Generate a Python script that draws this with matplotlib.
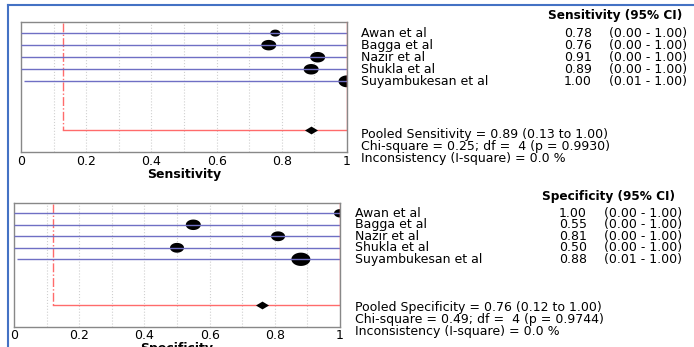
import numpy as np
import matplotlib
matplotlib.use("Agg")
import matplotlib.pyplot as plt
from matplotlib.path import Path
from matplotlib.lines import Line2D

plt.rcParams['font.family'] = ['DejaVu Sans']

# study data
studies = ["Awan et al", "Bagga et al", "Nazir et al", "Shukla et al", "Suyambukesan et al"]

sens = [0.78, 0.76, 0.91, 0.89, 1.00]
sens_lo = [0.00, 0.00, 0.00, 0.00, 0.01]
sens_hi = [1.00, 1.00, 1.00, 1.00, 1.00]
sens_weight = [10, 15, 15, 15, 17]
sens_pooled = (0.89, 0.13, 1.00)
sens_chi = (0.25, 4, 0.9930)
sens_i2 = 0.0

spec = [1.00, 0.55, 0.81, 0.50, 0.88]
spec_lo = [0.00, 0.00, 0.00, 0.00, 0.01]
spec_hi = [1.00, 1.00, 1.00, 1.00, 1.00]
spec_weight = [12, 15, 14, 14, 19]
spec_pooled = (0.76, 0.12, 1.00)
spec_chi = (0.49, 4, 0.9744)
spec_i2 = 0.0

BLUE = '#6f6fc4'
RED = '#ff6b6b'
FS = 9

# ellipse and flat diamond markers
t = np.linspace(0, 2 * np.pi, 60)
ellipse = Path(np.column_stack([np.cos(t), 0.7 * np.sin(t)]))
diamond = Path([(-1, 0), (0, 0.6), (1, 0), (0, -0.6), (-1, 0)],
               [Path.MOVETO, Path.LINETO, Path.LINETO, Path.LINETO, Path.CLOSEPOLY])

W, H = 694, 347
fig = plt.figure(figsize=(W / 100, H / 100), dpi=100)


def forest(rect, est, lo, hi, weight, pooled, chi, i2, name, text_x, pool_y, pool_dy):
    ax = fig.add_axes(rect)
    y = np.arange(1, len(est) + 1)
    ax.hlines(y, lo, hi, color=BLUE, lw=1.0, zorder=3)
    ax.scatter(est, y, s=(np.array(weight) * 0.72) ** 2, marker=ellipse,
               color='black', zorder=2, linewidths=0)

    p, plo, phi = pooled
    py = 9
    ax.plot([plo, plo], [0.2, py], color=RED, lw=1.0, ls='-.', zorder=1)
    ax.plot([phi, phi], [0.08, py], color=RED, lw=1.0, zorder=4)
    ax.plot([plo, phi], [py, py], color=RED, lw=1.0, zorder=1)
    ax.scatter([p], [py], s=88, marker=diamond, color='black', zorder=5, linewidths=0)

    ax.set_xlim(0, 1)
    ax.set_ylim(10.86, 0.08)
    ax.set_yticks([])
    ax.set_xticks(np.arange(0, 1.01, 0.2))
    ax.set_xticklabels(['0', '0.2', '0.4', '0.6', '0.8', '1'])
    ax.tick_params(length=0, which='both', labelsize=FS, pad=2)
    for g in np.arange(0.1, 1.0, 0.1):
        ax.axvline(g, color='#d0d0d0', lw=0.8, ls=':', zorder=0)
    for sp in ax.spines.values():
        sp.set_color('#888888')
        sp.set_linewidth(1.0)
    ax.set_xlabel(name, fontsize=FS, fontweight='bold', labelpad=0)

    # table of estimates
    tr = ax.get_yaxis_transform()
    nx, vx, cx, hx = text_x
    ax.text(hx, -0.5, f"{name} (95% CI)", transform=tr, ha='right', va='center',
            fontsize=FS - 0.3, fontweight='bold', clip_on=False)
    for yi, s_, e, l, h in zip(y, studies, est, lo, hi):
        ax.text(nx, yi, s_, transform=tr, ha='left', va='center', fontsize=FS)
        ax.text(vx, yi, f"{e:.2f}", transform=tr, ha='right', va='center', fontsize=FS)
        ax.text(cx, yi, f"({l:.2f} - {h:.2f})", transform=tr, ha='left', va='center',
                fontsize=FS)
    lines = [f"Pooled {name} = {p:.2f} ({plo:.2f} to {phi:.2f})",
             f"Chi-square = {chi[0]:.2f}; df =  {chi[1]} (p = {chi[2]:.4f})",
             f"Inconsistency (I-square) = {i2:.1f} %"]
    for k, line in enumerate(lines):
        ax.text(nx, pool_y + k * pool_dy, line, transform=tr, ha='left',
                va='center', fontsize=FS)
    return ax


forest([21 / W, 1 - 152 / H, 326 / W, 130 / H], sens, sens_lo, sens_hi, sens_weight,
       sens_pooled, sens_chi, sens_i2, "Sensitivity",
       (1.043, 1.751, 1.804, 2.028), 9.42, 1.0)
forest([14 / W, 1 - 326.7 / H, 326 / W, 124 / H], spec, spec_lo, spec_hi, spec_weight,
       spec_pooled, spec_chi, spec_i2, "Specificity",
       (1.046, 1.757, 1.81, 2.028), 9.2, 1.02)

# outer frame
fig.add_artist(Line2D([8 / W, 8 / W], [0, 1 - 5 / H], color='#4472c4', lw=1.5,
                      transform=fig.transFigure))
fig.add_artist(Line2D([8 / W, 1], [1 - 5 / H, 1 - 5 / H], color='#4472c4', lw=1.5,
                      transform=fig.transFigure))

fig.savefig("out.png", dpi=100)
